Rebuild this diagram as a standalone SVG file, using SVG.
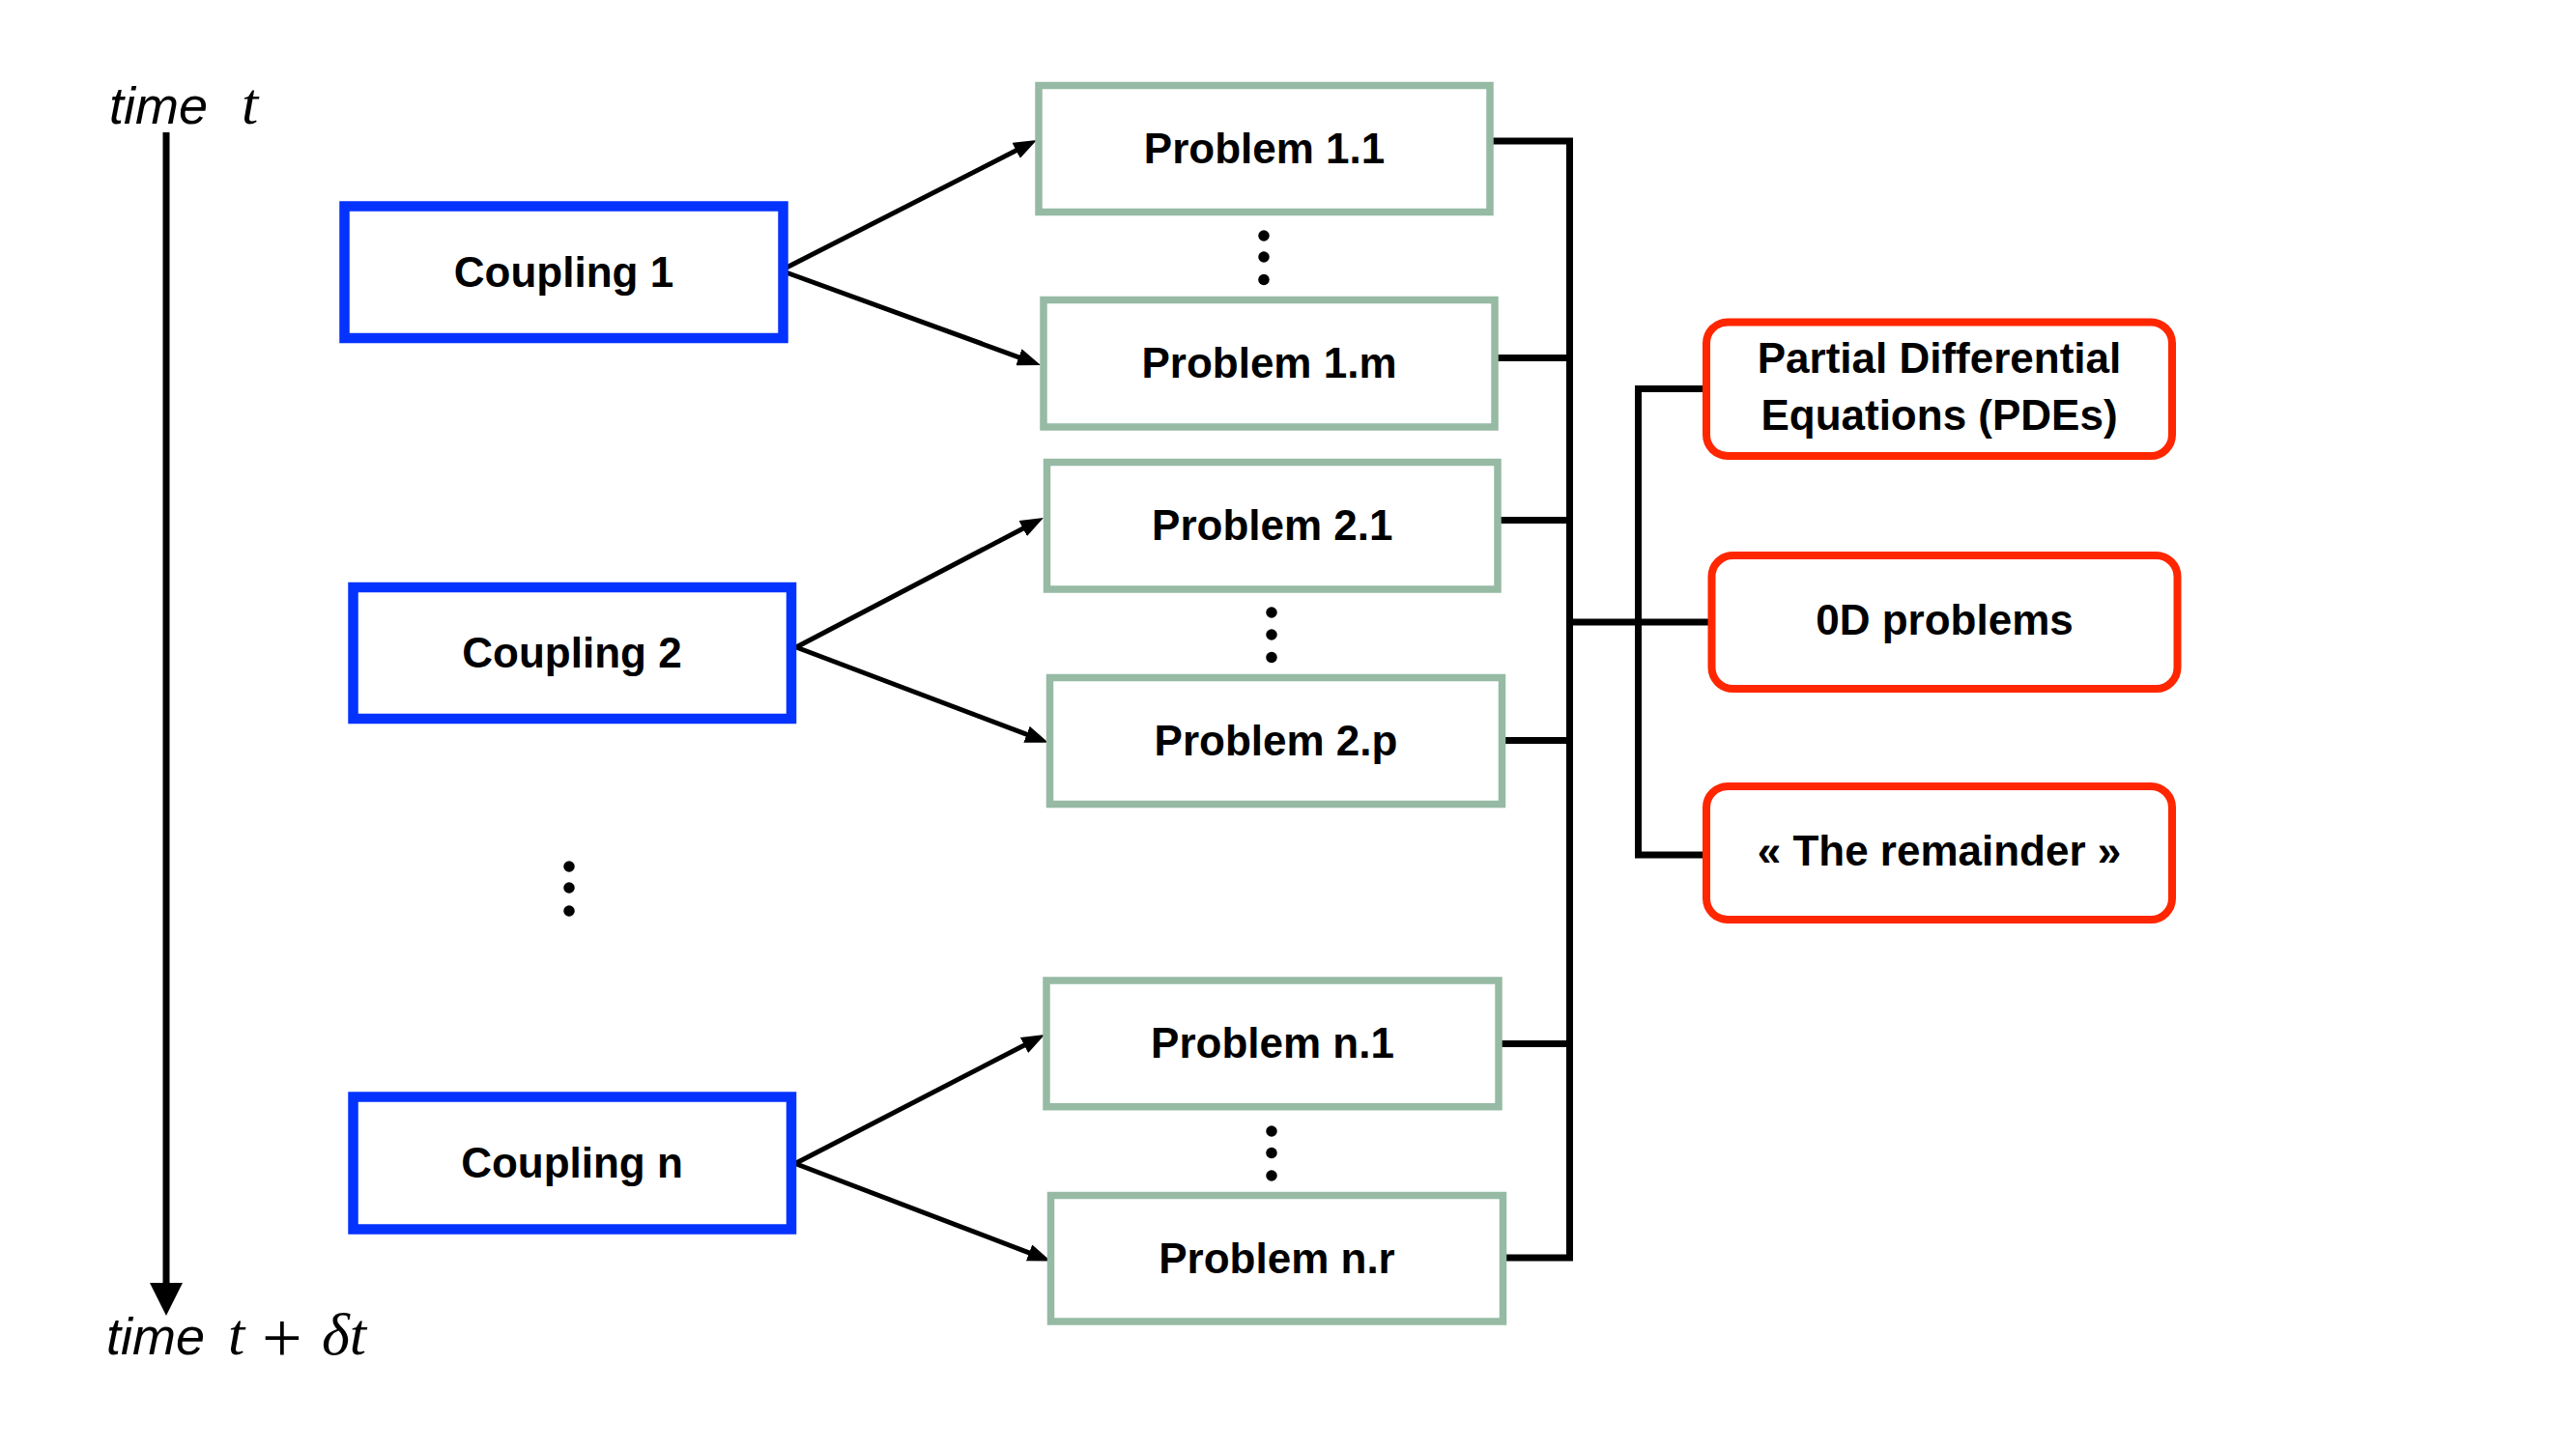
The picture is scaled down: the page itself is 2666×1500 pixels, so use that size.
<svg xmlns="http://www.w3.org/2000/svg" width="2666" height="1500" viewBox="0 0 2666 1500">
  <style>
    .coupling { fill: #ffffff; stroke: #0433FF; stroke-width: 10.5; }
    .problem { fill: #ffffff; stroke: #96BAA4; stroke-width: 7.5; }
    .category { fill: #ffffff; stroke: #FF2600; stroke-width: 8; }
    .label { font-family: "Liberation Sans", Arial, sans-serif; font-weight: bold; font-size: 44px; fill: #000000; text-anchor: middle; }
    .timeword { font-family: "Liberation Sans", Arial, sans-serif; font-style: italic; font-size: 54px; fill: #000000; }
    .math { font-family: "Liberation Serif", "Times New Roman", serif; font-size: 62px; fill: #000000; }
    .arrow { fill: none; stroke: #000000; stroke-width: 5; }
    .bracket { fill: none; stroke: #000000; stroke-width: 7; stroke-linejoin: miter; stroke-linecap: butt; }
    .dot { fill: #000000; }
  </style>
  <defs>
    <marker id="arrowhead" markerUnits="userSpaceOnUse" markerWidth="24" markerHeight="18" viewBox="0 0 24 18" refX="16" refY="9" orient="auto">
      <path d="M0,0 L24,9 L0,18 Z" fill="#000000"/>
    </marker>
    <marker id="timehead" markerUnits="userSpaceOnUse" markerWidth="34" markerHeight="34" viewBox="0 0 34 34" refX="14" refY="17" orient="auto">
      <path d="M0,0 L34,17 L0,34 Z" fill="#000000"/>
    </marker>
  </defs>
  <rect width="2666" height="1500" fill="#ffffff"/>

  <g id="connectors">
    <line class="bracket" x1="172" y1="137" x2="172" y2="1342" stroke-width="7.5" marker-end="url(#timehead)"/>
    <line class="arrow" x1="808" y1="280" x2="1065.9" y2="148.6" marker-end="url(#arrowhead)"/>
    <line class="arrow" x1="808" y1="280" x2="1069.5" y2="375.3" marker-end="url(#arrowhead)"/>
    <line class="arrow" x1="824" y1="670" x2="1072.9" y2="539.7" marker-end="url(#arrowhead)"/>
    <line class="arrow" x1="824" y1="670" x2="1077.5" y2="765.9" marker-end="url(#arrowhead)"/>
    <line class="arrow" x1="823" y1="1204.5" x2="1074.2" y2="1074.7" marker-end="url(#arrowhead)"/>
    <line class="arrow" x1="823" y1="1204.5" x2="1080" y2="1302.6" marker-end="url(#arrowhead)"/>
    <path class="bracket" d="M1542,146 H1624.5 V1302 H1552"/>
    <line class="bracket" x1="1547" y1="370.5" x2="1624.5" y2="370.5"/>
    <line class="bracket" x1="1550" y1="538.5" x2="1624.5" y2="538.5"/>
    <line class="bracket" x1="1554" y1="766.5" x2="1624.5" y2="766.5"/>
    <line class="bracket" x1="1551" y1="1080.5" x2="1624.5" y2="1080.5"/>
    <line class="bracket" x1="1624.5" y1="644" x2="1768" y2="644"/>
    <path class="bracket" d="M1766,402.5 H1695.5 V885 H1766"/>
  </g>

  <g id="time-axis-labels">
    <text class="timeword" x="113" y="128">time</text>
    <text class="math" x="250" y="128" font-style="italic">t</text>
    <text class="timeword" x="110" y="1402">time</text>
    <text class="math"><tspan x="236" y="1402" font-style="italic">t</tspan><tspan x="271" y="1410" font-size="74">+</tspan><tspan x="333" y="1402" font-style="italic">δt</tspan></text>
  </g>

  <g id="coupling-1">
    <rect class="coupling" x="356.5" y="213.5" width="454" height="136.5"/>
    <text class="label" x="583.5" y="297">Coupling 1</text>
  </g>
  <g id="coupling-2">
    <rect class="coupling" x="365.5" y="608" width="453.5" height="136"/>
    <text class="label" x="592" y="691">Coupling 2</text>
  </g>
  <g id="coupling-n">
    <rect class="coupling" x="365.5" y="1135.5" width="453.5" height="137"/>
    <text class="label" x="592" y="1219">Coupling n</text>
  </g>

  <g id="problem-1-1">
    <rect class="problem" x="1075" y="88.5" width="467" height="131"/>
    <text class="label" x="1308.5" y="169">Problem 1.1</text>
  </g>
  <g id="problem-1-m">
    <rect class="problem" x="1080" y="310.5" width="467" height="131.5"/>
    <text class="label" x="1313.5" y="391">Problem 1.m</text>
  </g>
  <g id="problem-2-1">
    <rect class="problem" x="1083.5" y="478.5" width="466.5" height="131.5"/>
    <text class="label" x="1316.75" y="559">Problem 2.1</text>
  </g>
  <g id="problem-2-p">
    <rect class="problem" x="1086.5" y="701.5" width="468" height="131"/>
    <text class="label" x="1320.5" y="782">Problem 2.p</text>
  </g>
  <g id="problem-n-1">
    <rect class="problem" x="1083" y="1015" width="468" height="130.7"/>
    <text class="label" x="1317" y="1095">Problem n.1</text>
  </g>
  <g id="problem-n-r">
    <rect class="problem" x="1087.5" y="1237.5" width="468" height="130.5"/>
    <text class="label" x="1321.5" y="1318">Problem n.r</text>
  </g>

  <g id="ellipsis-1">
    <circle class="dot" cx="1308" cy="244" r="5.75"/>
    <circle class="dot" cx="1308" cy="266" r="5.75"/>
    <circle class="dot" cx="1308" cy="289.5" r="5.75"/>
  </g>
  <g id="ellipsis-2">
    <circle class="dot" cx="1316" cy="634" r="5.75"/>
    <circle class="dot" cx="1316" cy="657" r="5.75"/>
    <circle class="dot" cx="1316" cy="680.5" r="5.75"/>
  </g>
  <g id="ellipsis-couplings">
    <circle class="dot" cx="589" cy="897" r="5.75"/>
    <circle class="dot" cx="589" cy="919" r="5.75"/>
    <circle class="dot" cx="589" cy="943" r="5.75"/>
  </g>
  <g id="ellipsis-n">
    <circle class="dot" cx="1316" cy="1171" r="5.75"/>
    <circle class="dot" cx="1316" cy="1193.5" r="5.75"/>
    <circle class="dot" cx="1316" cy="1217" r="5.75"/>
  </g>

  <g id="pdes">
    <rect class="category" x="1766" y="333.5" width="482" height="138.5" rx="22" ry="22"/>
    <text class="label" x="2007" y="386">Partial Differential</text>
    <text class="label" x="2007" y="445">Equations (PDEs)</text>
  </g>
  <g id="od-problems">
    <rect class="category" x="1771.5" y="575" width="482" height="138" rx="22" ry="22"/>
    <text class="label" x="2012.5" y="657">0D problems</text>
  </g>
  <g id="remainder">
    <rect class="category" x="1766" y="814" width="482" height="138" rx="22" ry="22"/>
    <text class="label" x="2007" y="896">« The remainder »</text>
  </g>
</svg>
